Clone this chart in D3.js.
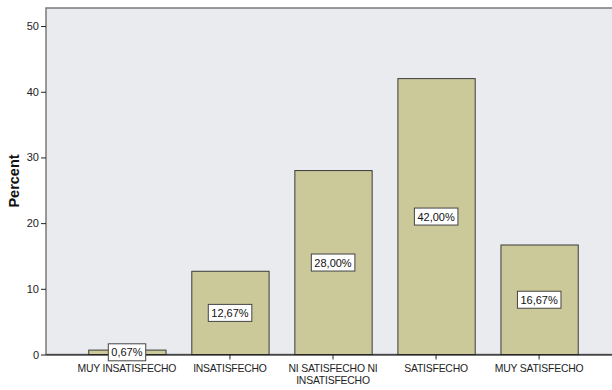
<!DOCTYPE html>
<html>
<head>
<meta charset="utf-8">
<script src="https://cdn.jsdelivr.net/npm/d3@7"></script>
<style>
  body { margin: 0; background: #fff; }
  svg text { font-family: "Liberation Sans", Arial, sans-serif; }
</style>
</head>
<body>
<div id="chart"></div>
<script>
/* chart data */
const categories = ["MUY INSATISFECHO", "INSATISFECHO", "NI SATISFECHO NI INSATISFECHO", "SATISFECHO", "MUY SATISFECHO"];
const tickLabels = [["MUY INSATISFECHO"], ["INSATISFECHO"], ["NI SATISFECHO NI", "INSATISFECHO"], ["SATISFECHO"], ["MUY SATISFECHO"]];
const percents = [0.67, 12.67, 28.00, 42.00, 16.67];
const yTicks = [0, 10, 20, 30, 40, 50];

const width = 612, height = 390;
const plot = {left: 46, top: 8, right: 620, bottom: 354.5};

const svg = d3.select("#chart")
    .append("svg")
        .attr("width", width)
        .attr("height", height);

/* scales */
const x = d3.scaleBand()
    .domain(categories)
    .range([plot.left, plot.right])
    .paddingInner(0.25)
    .paddingOuter(0.41);

const y = d3.scaleLinear()
    .domain([0, 52.75])
    .range([plot.bottom, plot.top]);

/* plot background + frame */
svg.append("rect")
    .attr("x", plot.left)
    .attr("y", plot.top)
    .attr("width", plot.right - plot.left)
    .attr("height", plot.bottom - plot.top)
    .attr("fill", "#eaebee")
    .attr("stroke", "#7a7a7a")
    .attr("stroke-width", 1.5);

/* bars */
svg.selectAll(".bar")
    .data(percents)
    .enter()
    .append("rect")
        .attr("class", "bar")
        .attr("x", (d, i) => x(categories[i]) + 0.5)
        .attr("y", d => y(d))
        .attr("width", x.bandwidth())
        .attr("height", d => y(0) - y(d))
        .attr("fill", "#cbc99a")
        .attr("stroke", "#3a3a3a")
        .attr("stroke-width", 1);

/* y axis */
const yAxis = svg.append("g")
    .attr("transform", "translate(" + plot.left + ",0)")
    .call(d3.axisLeft(y).tickValues(yTicks).tickSize(5).tickPadding(2).tickFormat(d3.format("d")));
yAxis.select(".domain").remove();
yAxis.selectAll(".tick line").attr("stroke", "#222");
yAxis.selectAll("text")
    .attr("font-size", 11)
    .attr("fill", "#222")
    .style("font-family", "'Liberation Sans', Arial, sans-serif");

/* x axis */
const xAxis = svg.append("g")
    .attr("transform", "translate(0," + plot.bottom + ")")
    .call(d3.axisBottom(x).tickSize(5).tickFormat(""));
xAxis.select(".domain")
    .attr("d", "M" + plot.left + ",0.5H" + plot.right)
    .attr("stroke", "#111");
xAxis.selectAll(".tick line").attr("stroke", "#222");

/* category labels */
const catLabel = svg.selectAll(".cat")
    .data(tickLabels)
    .enter()
    .append("text")
        .attr("class", "cat")
        .attr("x", (d, i) => x(categories[i]) + x.bandwidth() / 2)
        .attr("y", 372)
        .attr("text-anchor", "middle")
        .attr("font-size", 10.4)
        .attr("letter-spacing", "-0.2")
        .attr("fill", "#222");
catLabel.selectAll("tspan")
    .data(d => d)
    .enter()
    .append("tspan")
        .attr("x", function() { return this.parentNode.getAttribute("x"); })
        .attr("dy", (d, i) => i === 0 ? 0 : 11.5)
        .text(d => d);

/* y axis title */
svg.append("text")
    .attr("transform", "translate(19," + 181 + ") rotate(-90)")
    .attr("text-anchor", "middle")
    .attr("font-size", 14.5)
    .attr("font-weight", "bold")
    .attr("fill", "#111")
    .text("Percent");

/* value labels */
const fmt = d => d3.format(".2f")(d).replace(".", ",") + "%";
const labels = svg.selectAll(".val")
    .data(percents)
    .enter()
    .append("g")
        .attr("class", "val")
        .attr("transform", (d, i) => "translate(" + (x(categories[i]) + x.bandwidth() / 2) + "," + ((y(d) + y(0)) / 2) + ")");

labels.append("text")
    .attr("text-anchor", "middle")
    .attr("dy", "0.36em")
    .attr("font-size", 11)
    .attr("fill", "#111")
    .text(fmt);

labels.each(function() {
    const g = d3.select(this);
    const bb = g.select("text").node().getBBox();
    g.insert("rect", "text")
        .attr("x", bb.x - 3)
        .attr("y", -8.5)
        .attr("width", bb.width + 6)
        .attr("height", 17)
        .attr("fill", "#fff")
        .attr("stroke", "#444")
        .attr("stroke-width", 1);
});
</script>
</body>
</html>
